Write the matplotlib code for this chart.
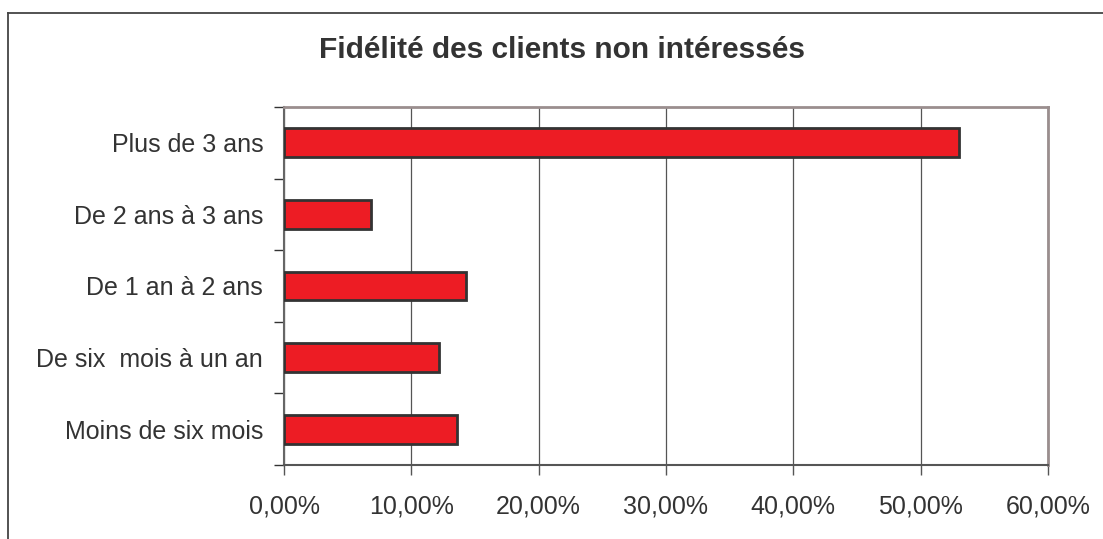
import matplotlib.pyplot as plt
from matplotlib.lines import Line2D
from matplotlib.ticker import FuncFormatter, FixedLocator

# Data (top-to-bottom order as in the chart)
categories = ["Plus de 3 ans", "De 2 ans à 3 ans", "De 1 an à 2 ans",
              "De six  mois à un an", "Moins de six mois"]
shares = [53.0, 6.8, 14.3, 12.2, 13.6]
x_ticks = [0, 10, 20, 30, 40, 50, 60]

plt.rcParams['font.family'] = ['Liberation Sans', 'DejaVu Sans']

fig = plt.figure(figsize=(11.03, 5.39), dpi=100)
ax = fig.add_axes([0.2575, 0.1373, 0.6925, 0.6642])

# Outer chart border (only top/left visible in crop)
fig.add_artist(Line2D([8 / 1103, 8 / 1103], [1 - 13 / 539, 0], color='#444444', lw=1.3))
fig.add_artist(Line2D([8 / 1103, 1], [1 - 13 / 539, 1 - 13 / 539], color='#444444', lw=1.3))

ypos = list(range(len(categories)))[::-1]
ax.barh(ypos, shares, height=0.4, color='#ED1C24', edgecolor='#333333', linewidth=2, zorder=3)

ax.set_xlim(0, 60)
ax.set_ylim(-0.5, len(categories) - 0.5)

ax.xaxis.set_major_locator(FixedLocator(x_ticks))
ax.xaxis.set_major_formatter(FuncFormatter(lambda v, p: f"{v:.2f}%".replace('.', ',')))
ax.grid(axis='x', color='#555555', linewidth=0.9, zorder=1)

ax.set_yticks(ypos)
ax.set_yticklabels(categories)
ax.yaxis.set_minor_locator(FixedLocator([i - 0.5 for i in range(len(categories) + 1)]))
ax.tick_params(axis='y', which='major', length=0, pad=15, labelsize=18, labelcolor='#333333')
ax.tick_params(axis='y', which='minor', length=7, width=1, color='#333333', direction='out')
ax.tick_params(axis='x', length=7, width=1, color='#555555', pad=14, labelsize=18,
               labelcolor='#333333')

for side in ['top', 'right']:
    ax.spines[side].set_color('#9A8E8E')
    ax.spines[side].set_linewidth(2)
ax.spines['left'].set_color('#666666')
ax.spines['left'].set_linewidth(1.5)
ax.spines['bottom'].set_color('#555555')
ax.spines['bottom'].set_linewidth(1.5)

fig.text(562 / 1103, 1 - 58 / 539, "Fidélité des clients non intéressés", ha='center',
         va='baseline', fontsize=21.5, fontweight='bold', color='#333333')

fig.savefig('out.png', dpi=100)
